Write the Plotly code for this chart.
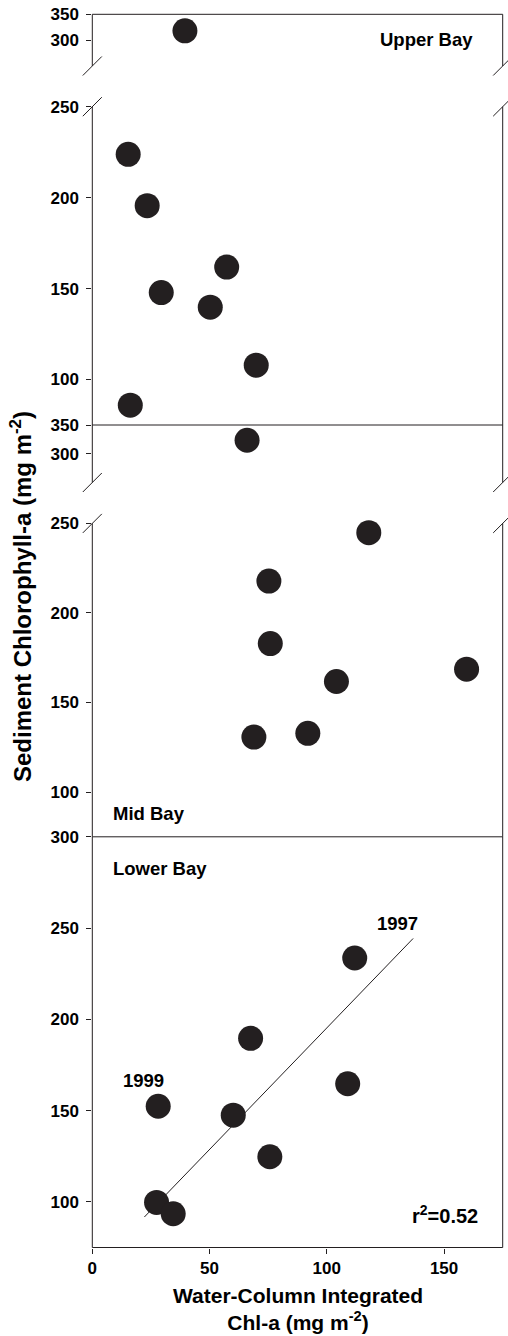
import plotly.graph_objects as go

W, H = 508, 1336

# ---------------- data ----------------
upper_x = [39.5, 15.3, 23.4, 29.4, 57.3, 50.3, 69.9, 16.2]
upper_y = [318.0, 223.8, 195.6, 147.8, 161.8, 139.8, 107.9, 85.9]
mid_x = [66.0, 117.9, 75.3, 75.9, 104.1, 159.6, 68.9, 91.9]
mid_y = [323.5, 244.8, 217.8, 182.9, 161.7, 168.6, 130.7, 132.8]
lower_x = [111.9, 67.5, 108.9, 28.1, 60.1, 75.7, 27.4, 34.5]
lower_y = [233.6, 189.6, 164.7, 152.4, 147.5, 124.7, 99.7, 93.5]
fit_x = [22.2, 136.8]
fit_y = [91.7, 244.3]
x_ticks = [0, 50, 100, 150]
x_range = [0, 175]
break_value = 250

INK = "#231f20"
FONT = "Liberation Sans"


def fx(px):
    return px / W


def fy(py):
    return 1 - py / H


X0, X1 = 92.3, 502.7
# (axis name, top px, bottom px, range, tick values)
segments = [
    ("y", 14.3, 66.0, [250, 350], [300, 350]),
    ("y2", 106.7, 425.0, [75, 250], [100, 150, 200, 250]),
    ("y3", 425.0, 482.5, [250, 350], [300, 350]),
    ("y4", 523.4, 836.8, [75, 250], [100, 150, 200, 250]),
    ("y5", 836.8, 1247.5, [75, 300], [100, 150, 200, 250, 300]),
]

fig = go.Figure()

marker = dict(size=25, color=INK, line=dict(width=0))


def add_points(xs, ys, top_axis, bottom_axis):
    tx = [x for x, y in zip(xs, ys) if y > break_value]
    ty = [y for y in ys if y > break_value]
    bx = [x for x, y in zip(xs, ys) if y <= break_value]
    by = [y for y in ys if y <= break_value]
    if tx:
        fig.add_trace(go.Scatter(x=tx, y=ty, mode="markers", marker=marker,
                                 xaxis="x", yaxis=top_axis, cliponaxis=False,
                                 showlegend=False))
    fig.add_trace(go.Scatter(x=bx, y=by, mode="markers", marker=marker,
                             xaxis="x", yaxis=bottom_axis, cliponaxis=False,
                             showlegend=False))


add_points(upper_x, upper_y, "y", "y2")
add_points(mid_x, mid_y, "y3", "y4")
fig.add_trace(go.Scatter(x=fit_x, y=fit_y, mode="lines",
                         line=dict(color=INK, width=1),
                         xaxis="x", yaxis="y5", showlegend=False))
fig.add_trace(go.Scatter(x=lower_x, y=lower_y, mode="markers", marker=marker,
                         xaxis="x", yaxis="y5", cliponaxis=False,
                         showlegend=False))

tickfont = dict(family=FONT, size=17, color="black", weight="bold")

layout = dict(
    width=W, height=H,
    margin=dict(l=0, r=0, t=0, b=0, pad=0, autoexpand=False),
    paper_bgcolor="white", plot_bgcolor="white",
    showlegend=False,
)

common_x = dict(range=x_range, domain=[fx(X0), fx(X1)], showgrid=False,
                zeroline=False, showline=False, automargin=False,
                tickvals=x_ticks, ticks="outside", ticklen=5, tickwidth=1,
                tickcolor=INK, tickfont=tickfont)

layout["xaxis"] = dict(common_x, anchor="y5", showticklabels=True)
layout["xaxis2"] = dict(common_x, anchor="y2", overlaying="x", showticklabels=False)
layout["xaxis3"] = dict(common_x, anchor="y4", overlaying="x", showticklabels=False)

for name, top, bot, rng, tv in segments:
    key = "yaxis" if name == "y" else "yaxis" + name[1:]
    layout[key] = dict(range=rng, domain=[fy(bot), fy(top)], anchor="x",
                       showgrid=False, zeroline=False, showline=False,
                       automargin=False, ticklabelstandoff=4,
                       tickvals=tv, ticks="outside", ticklen=5, tickwidth=1,
                       tickcolor=INK, tickfont=tickfont)

fig.update_layout(**layout)

# frame lines and axis-break slashes
line_style = dict(color=INK, width=1)
shapes = []
for name, top, bot, rng, tv in segments:
    for ax in (X0, X1):
        shapes.append(dict(type="line", xref="paper", yref="paper",
                           x0=fx(ax), y0=fy(top), x1=fx(ax), y1=fy(bot),
                           line=line_style))
for py in (segments[0][1], segments[1][2], segments[3][2], segments[4][2]):
    shapes.append(dict(type="line", xref="paper", yref="paper",
                       x0=fx(X0), y0=fy(py), x1=fx(X1), y1=fy(py),
                       line=line_style))
half = 9.5
for name, top, bot, rng, tv in segments:
    ends = []
    if rng[1] == break_value:
        ends.append(top)
    if rng[0] == break_value:
        ends.append(bot)
    for py in ends:
        for ax in (X0, X1):
            shapes.append(dict(type="line", xref="paper", yref="paper",
                               x0=fx(ax - half), y0=fy(py + half),
                               x1=fx(ax + half), y1=fy(py - half),
                               line=line_style))
fig.update_layout(shapes=shapes)

lab = dict(family=FONT, size=18.5, color="black", weight="bold")
ann = [
    dict(text="Upper Bay", x=fx(426), y=fy(39.5), xanchor="center"),
    dict(text="Mid Bay", x=fx(111), y=fy(814), xanchor="left"),
    dict(text="Lower Bay", x=fx(111), y=fy(868), xanchor="left"),
    dict(text="1997", x=fx(397.5), y=fy(924), xanchor="center"),
    dict(text="1999", x=fx(143.3), y=fy(1080), xanchor="center"),
]
annotations = []
for a in ann:
    a.update(xref="paper", yref="paper", yanchor="middle", showarrow=False,
             font=lab)
    annotations.append(a)
annotations.append(dict(text="r<sup>2</sup>=0.52", x=fx(479.5), y=fy(1214),
                        xanchor="right", yanchor="middle", xref="paper",
                        yref="paper", showarrow=False,
                        font=dict(lab, size=20)))

title_font = dict(family=FONT, size=21, color="black", weight="bold")
annotations.append(dict(text="Sediment Chlorophyll-a (mg m<sup>-2</sup>)",
                        x=fx(21), y=fy(597), xref="paper", yref="paper",
                        textangle=-90, showarrow=False,
                        font=dict(title_font, size=24),
                        xanchor="center", yanchor="middle"))
annotations.append(dict(text="Water-Column Integrated<br>Chl-a (mg m<sup>-2</sup>)",
                        x=fx(297.5), y=fy(1308.5), xref="paper", yref="paper",
                        showarrow=False, font=title_font,
                        xanchor="center", yanchor="middle"))
fig.update_layout(annotations=annotations)

fig.write_html("out.html")
